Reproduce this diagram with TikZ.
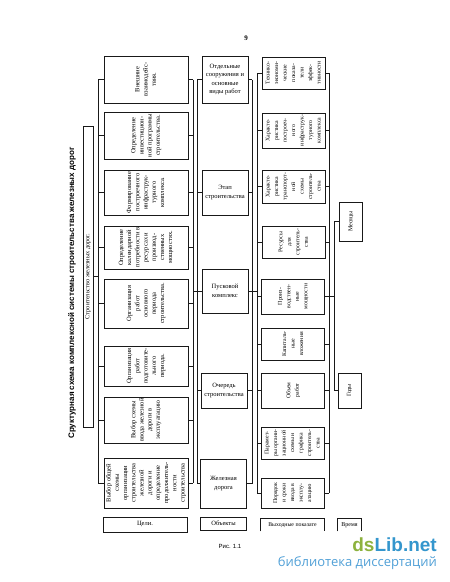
\documentclass[tikz,border=0pt]{standalone}
\usepackage{fontspec}
\setmainfont{Liberation Serif}
\newfontfamily\headfont{Liberation Sans}
\newfontfamily\markfont{Open Sans}
\usepackage{graphicx}
\usepackage{tikz}
\usetikzlibrary{calc}
\definecolor{scanblack}{RGB}{25,25,25}
\definecolor{libgreen}{RGB}{141,178,62}
\definecolor{libblue}{RGB}{52,150,205}
\definecolor{libsub}{RGB}{80,160,215}
\newcommand{\vtext}[1]{\rotatebox{90}{\begin{tabular}{@{}c@{}}#1\end{tabular}}}

\begin{document}
\begin{tikzpicture}[x=1pt,y=-1pt,
goal/.style={draw=scanblack, line width=0.9pt, minimum width=84pt, inner sep=0pt,
font=\fontsize{6.5}{8.2}\selectfont},
obj/.style={draw=scanblack, line width=0.9pt, minimum width=46pt, inner sep=0pt,
align=center, font=\fontsize{6.5}{8.5}\selectfont},
outp/.style={draw=scanblack, line width=0.9pt, minimum width=63pt, inner sep=0pt,
font=\fontsize{5.8}{8.5}\selectfont},
tbox/.style={draw=scanblack, line width=0.9pt, minimum width=23pt, inner sep=0pt,
font=\fontsize{6}{7}\selectfont},
wire/.style={draw=scanblack, line width=0.6pt}
]
\fill[white] (0,0) rectangle (450,582);
\useasboundingbox (0,0) rectangle (450,582);

\node[font=\bfseries\fontsize{7}{8}\selectfont] (pnum) at (246,38) {9};
\node[font=\headfont\bfseries\fontsize{8}{9}\selectfont, rotate=90] (title) at (72,293)
{Сруктурная схема комплексной системы строительства железных дорог};

\node[draw=scanblack, line width=0.9pt, minimum width=10pt, minimum height=301pt, inner sep=0pt]
(rail) at (88,276.5) {\rotatebox{90}{\fontsize{6.3}{7}\selectfont Строительство железных дорог.}};

% цели
\node[goal, minimum height=47pt] (g1) at (146,79.5) {\vtext{Внешние\\взаимодейс-\\твия.}};
\node[goal, minimum height=47pt] (g2) at (146,135.5) {\vtext{Определение\\инвестицион-\\ной программы\\строительства.}};
\node[goal, minimum height=45pt] (g3) at (146,192.5) {\vtext{Формирование\\построечного\\инфраструк-\\турного\\комплекса.}};
\node[goal, minimum height=43pt] (g4) at (146,247.5) {\vtext{Определение\\календарной\\потребности в\\ресурсах и\\производ-\\ственных\\мощностях.}};
\node[goal, minimum height=49pt] (g5) at (146,303.5) {\vtext{Организация\\работ\\основного\\периода\\строительства.}};
\node[goal, minimum height=40pt] (g6) at (146,366) {\vtext{Организация\\работ\\подготовите-\\льного\\периода.}};
\node[goal, minimum height=46pt] (g7) at (146,420) {\vtext{Выбор схемы\\ввода железной\\дороги в\\эксплуатацию}};
\node[goal, minimum height=50pt] (g8) at (146,483) {\vtext{Выбор общей\\схемы\\организации\\строительства\\железной\\дороги и\\определение\\продолжитель-\\ности\\строительства}};
\node[goal, minimum height=15pt] (goals) at (145,524.5) {Цели.};

% объекты
\node[obj, minimum height=47pt] (o1) at (225,79.5) {Отдельные\\сооружения и\\основные\\виды работ};
\node[obj, minimum height=45pt] (o2) at (225,192.5) {Этап\\строительства};
\node[obj, minimum height=44pt] (o3) at (225,291) {Пусковой\\комплекс};
\node[obj, minimum height=35pt] (o4) at (224,390.5) {Очередь\\строительства};
\node[obj, minimum height=49pt] (o5) at (223.5,483.5) {Железная\\дорога};
\node[obj, minimum height=13pt] (objs) at (223.5,523.5) {Объекты};

% выходные показатели
\node[outp, minimum height=32pt] (r1) at (293.5,73) {\vtext{Технико-\\экономи-\\ческие\\показа-\\тели\\эффек-\\тивности}};
\node[outp, minimum height=35pt] (r2) at (293.5,130.5) {\vtext{Характе-\\ристика\\построеч-\\ного\\инфраструк-\\турного\\комплекса}};
\node[outp, minimum height=33pt] (r3) at (293.5,186.5) {\vtext{Характе-\\ристика\\транспорт-\\ной\\схемы\\строитель-\\ства}};
\node[outp, minimum height=32pt] (r4) at (293.5,242) {\vtext{Ресурсы\\для\\строитель-\\ства}};
\node[outp, minimum height=35pt] (r5) at (293,296.5) {\vtext{Произ-\\водствен-\\ные\\мощности}};
\node[outp, minimum height=32pt] (r6) at (293,344) {\vtext{Капиталь-\\ные\\вложения}};
\node[outp, minimum height=35pt] (r7) at (293,390.5) {\vtext{Объем\\работ}};
\node[outp, minimum height=32pt] (r8) at (292.5,443) {\vtext{Парамет-\\ры органи-\\зационной\\схемы и\\графика\\строитель-\\ства}};
\node[outp, minimum height=30pt] (r9) at (292.5,493) {\vtext{Порядок\\и сроки\\ввода в\\эксплу-\\атацию}};
\node[outp, draw=none, minimum height=12pt] (outs) at (292.5,525) {Выходные показате};
\draw[scanblack, line width=0.9pt] (outs.south west) -- (outs.north west) -- (outs.north east) -- (outs.south east);

% время
\node[tbox, minimum height=39pt] (months) at (351,221.5) {\rotatebox{90}{Месяцы}};
\node[tbox, minimum height=35pt] (years) at (349.5,390.5) {\rotatebox{90}{Годы}};
\node[tbox, draw=none, minimum height=12pt] (time) at (349.5,525) {Время};
\draw[scanblack, line width=0.9pt] (time.south west) -- (time.north west) -- (time.north east) -- (time.south east);

\coordinate (lbus1) at (98,0);
\coordinate (rbus1) at (193,0);
\coordinate (lbus2) at (197,0);
\coordinate (rbus2) at (252,0);
\coordinate (lbus3) at (257,0);
\coordinate (rbus3) at (329,0);
\coordinate (tbus) at (334,0);

\draw[wire] (g1.west -| lbus1) -- (g8.west -| lbus1);
\draw[wire] (rail.east) -- (rail.east -| lbus1);
\draw[wire] (g1.west) -- (g1.west -| lbus1) (g2.west) -- (g2.west -| lbus1)
(g3.west) -- (g3.west -| lbus1) (g4.west) -- (g4.west -| lbus1)
(g5.west) -- (g5.west -| lbus1) (g6.west) -- (g6.west -| lbus1)
(g7.west) -- (g7.west -| lbus1) (g8.west) -- (g8.west -| lbus1);

\draw[wire] (g1.east -| rbus1) -- (g8.east -| rbus1);
\draw[wire] (g1.east) -- (g1.east -| rbus1) (g2.east) -- (g2.east -| rbus1)
(g3.east) -- (g3.east -| rbus1) (g4.east) -- (g4.east -| rbus1)
(g5.east) -- (g5.east -| rbus1) (g6.east) -- (g6.east -| rbus1)
(g7.east) -- (g7.east -| rbus1) (g8.east) -- (g8.east -| rbus1);

\draw[wire] (o1.west -| lbus2) -- (o5.west -| lbus2);
\draw[wire] (o1.west) -- (o1.west -| lbus2) (o2.west) -- (o2.west -| lbus2)
(o4.west) -- (o4.west -| lbus2) (o5.west) -- (o5.west -| lbus2);
\draw[wire] (o3.west -| rbus1) -- (o3.west);

\draw[wire] (o1.east -| rbus2) -- (o5.east -| rbus2);
\draw[wire] (o1.east) -- (o1.east -| rbus2) (o2.east) -- (o2.east -| rbus2)
(o4.east) -- (o4.east -| rbus2) (o5.east) -- (o5.east -| rbus2);
\draw[wire] (o3.east) -- (o3.east -| lbus3);

\draw[wire] (r1.west -| lbus3) -- (r9.west -| lbus3);
\draw[wire] (r1.west) -- (r1.west -| lbus3) (r2.west) -- (r2.west -| lbus3)
(r3.west) -- (r3.west -| lbus3) (r4.west) -- (r4.west -| lbus3)
(r5.west) -- (r5.west -| lbus3) (r6.west) -- (r6.west -| lbus3)
(r7.west) -- (r7.west -| lbus3) (r8.west) -- (r8.west -| lbus3)
(r9.west) -- (r9.west -| lbus3);

\draw[wire] (r1.east -| rbus3) -- (r9.east -| rbus3);
\draw[wire] (r1.east) -- (r1.east -| rbus3) (r2.east) -- (r2.east -| rbus3)
(r3.east) -- (r3.east -| rbus3) (r4.east) -- (r4.east -| rbus3)
(r6.east) -- (r6.east -| rbus3) (r7.east) -- (r7.east -| rbus3)
(r8.east) -- (r8.east -| rbus3) (r9.east) -- (r9.east -| rbus3);
\draw[wire] (r5.east) -- (r5.east -| tbus);

\draw[wire] (months.west) -- (months.west -| tbus) -- (years.west -| tbus) -- (years.west);

\node[font=\headfont\fontsize{6}{7}\selectfont] (fig) at (230,546) {Рис. 1.1};
\node[font=\headfont\bfseries\fontsize{19}{20}\selectfont, anchor=east, inner sep=0pt] (wm) at (437,545)
{\textcolor{libgreen}{ds}\textcolor{libblue}{Lib.net}};
\node[font=\markfont\fontsize{13}{14}\selectfont, text=libsub, anchor=east, inner sep=0pt] (wmsub) at (437,563)
{библиотека диссертаций};
\end{tikzpicture}
\end{document}
